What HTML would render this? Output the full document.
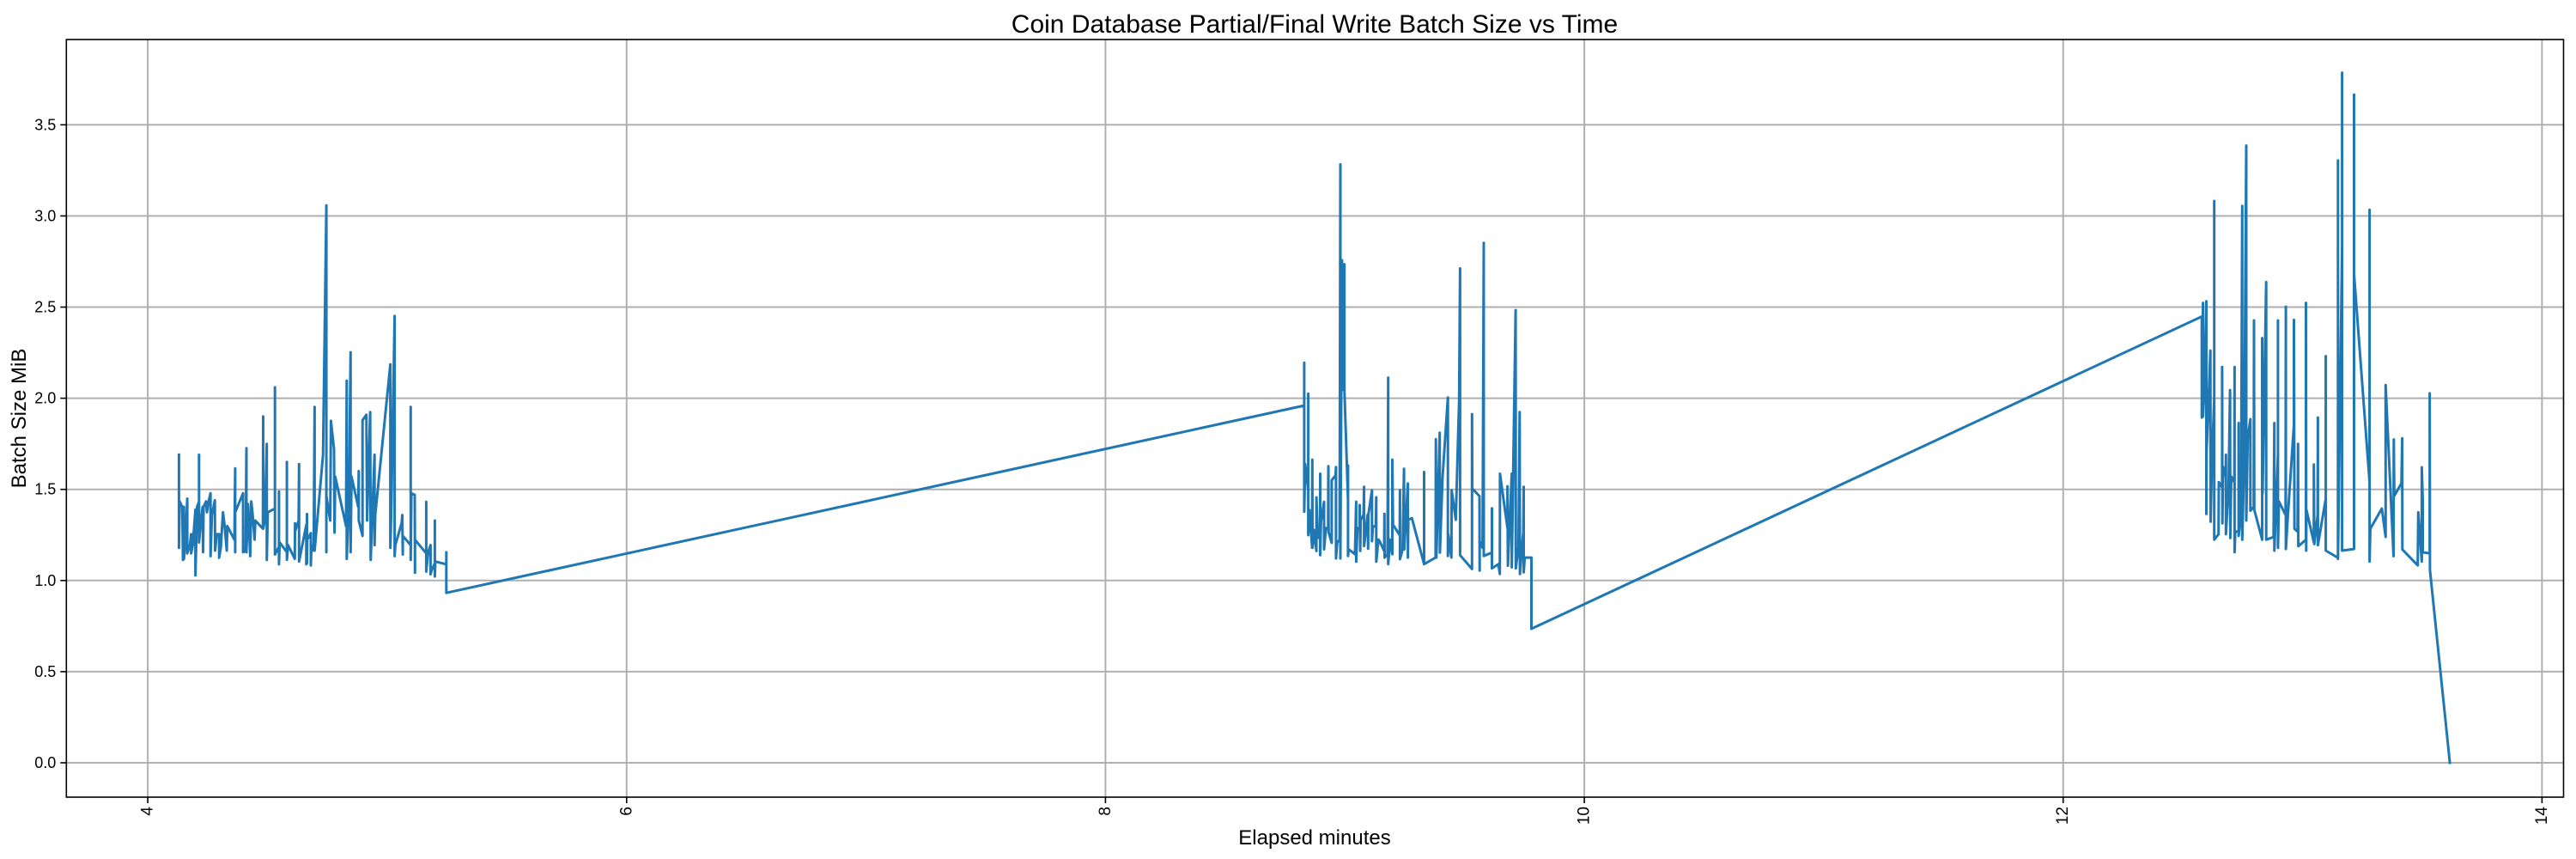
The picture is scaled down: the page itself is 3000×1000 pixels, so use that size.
<!DOCTYPE html>
<html><head><meta charset="utf-8"><style>
html,body{margin:0;padding:0;background:#fff;}
svg{display:block;font-family:"Liberation Sans",sans-serif;}
</style></head>
<body>
<svg id="chart" width="3000" height="1000" viewBox="0 0 3000 1000" xmlns="http://www.w3.org/2000/svg">
<rect x="0" y="0" width="3000" height="1000" fill="#fff"/>
<g id="grid"></g>
<g id="series"></g>
<g id="axes"></g>
<text x="1531" y="38" font-size="30" text-anchor="middle" fill="#000">Coin Database Partial/Final Write Batch Size vs Time</text>
<text x="1531" y="983" font-size="24" text-anchor="middle" fill="#000">Elapsed minutes</text>
<text x="0" y="0" font-size="24" text-anchor="middle" fill="#000" transform="translate(30,487) rotate(-90)">Batch Size MiB</text>
</svg>
<script>
const xTicks = [4, 6, 8, 10, 12, 14];
const yTicks = [0.0, 0.5, 1.0, 1.5, 2.0, 2.5, 3.0, 3.5];
const yTickLabels = ["0.0","0.5","1.0","1.5","2.0","2.5","3.0","3.5"];
const times = [
4.130,4.130,4.133,4.144,4.147,4.151,4.151,4.158,4.165,4.165,4.176,4.181,4.181,4.188,4.199,4.199,4.206,4.214,4.214,4.214,4.221,4.229,4.231,4.233,4.243,4.247,4.254,4.262,4.262,4.268,4.280,4.281,4.288,4.298,4.298,4.305,4.314,4.321,4.330,4.332,4.362,4.365,4.365,4.365,4.398,4.398,4.409,4.412,4.412,4.419,4.428,4.432,4.437,4.446,4.449,4.481,4.482,4.482,4.489,4.497,4.497,4.501,4.531,4.531,4.531,4.548,4.548,4.548,4.551,4.581,4.581,4.581,4.586,4.614,4.615,4.615,4.630,4.632,4.632,4.662,4.662,4.665,4.665,4.666,4.681,4.681,4.684,4.693,4.697,4.697,4.732,4.746,4.746,4.746,4.762,4.765,4.778,4.780,4.783,4.828,4.831,4.831,4.840,4.847,4.847,4.851,4.879,4.881,4.881,4.897,4.897,4.913,4.916,4.929,4.931,4.947,4.947,4.950,5.013,5.013,5.017,5.031,5.031,5.034,5.060,5.063,5.065,5.065,5.098,5.098,5.098,5.101,5.115,5.116,5.116,5.163,5.163,5.163,5.171,5.181,5.181,5.186,5.199,5.199,5.199,5.201,5.247,5.247,5.247,
8.830,8.830,8.830,8.834,8.847,8.847,8.847,8.852,8.863,8.864,8.865,8.870,8.881,8.881,8.887,8.896,8.897,8.897,8.900,8.913,8.913,8.921,8.930,8.931,8.932,8.945,8.945,8.961,8.963,8.963,8.968,8.978,8.981,8.981,8.988,8.995,8.998,8.998,9.013,9.013,9.013,9.016,9.042,9.047,9.047,9.052,9.062,9.062,9.064,9.066,9.078,9.080,9.080,9.095,9.097,9.098,9.113,9.113,9.117,9.129,9.131,9.131,9.140,9.145,9.164,9.165,9.166,9.178,9.181,9.181,9.189,9.198,9.198,9.201,9.229,9.230,9.230,9.241,9.247,9.248,9.263,9.263,9.265,9.280,9.331,9.331,9.331,9.379,9.380,9.382,9.396,9.397,9.408,9.430,9.430,9.432,9.445,9.446,9.463,9.477,9.481,9.481,9.531,9.531,9.532,9.562,9.563,9.563,9.575,9.580,9.580,9.614,9.614,9.614,9.641,9.647,9.648,9.679,9.679,9.681,9.697,9.697,9.713,9.714,9.725,9.730,9.731,9.745,9.747,9.747,9.751,9.779,9.779,
12.579,12.579,12.584,12.584,12.591,12.598,12.598,12.599,12.604,12.615,12.616,12.621,12.631,12.631,12.631,12.649,12.650,12.664,12.664,12.665,12.668,12.679,12.680,12.680,12.691,12.697,12.698,12.702,12.715,12.716,12.716,12.719,12.733,12.733,12.733,12.743,12.748,12.748,12.756,12.765,12.765,12.771,12.782,12.782,12.796,12.797,12.798,12.831,12.831,12.833,12.848,12.848,12.879,12.882,12.882,12.897,12.897,12.897,12.901,12.929,12.930,12.930,12.938,12.964,12.964,12.966,12.979,12.981,12.982,13.014,13.014,13.015,13.016,13.047,13.047,13.049,13.063,13.064,13.064,13.097,13.097,13.097,13.148,13.148,13.148,13.165,13.165,13.165,13.215,13.215,13.215,13.215,13.280,13.280,13.280,13.283,13.331,13.347,13.347,13.380,13.381,13.383,13.413,13.416,13.417,13.481,13.483,13.498,13.498,13.502,13.502,13.531,13.531,13.532,13.615
];
const batchSizes = [
1.690,1.179,1.434,1.404,1.113,1.404,1.119,1.239,1.449,1.149,1.194,1.254,1.149,1.194,1.389,1.028,1.404,1.434,1.690,1.209,1.314,1.404,1.155,1.404,1.434,1.374,1.434,1.479,1.134,1.359,1.440,1.164,1.254,1.254,1.125,1.179,1.374,1.299,1.164,1.299,1.224,1.615,1.155,1.374,1.479,1.155,1.164,1.726,1.155,1.419,1.134,1.434,1.374,1.224,1.329,1.284,1.900,1.284,1.329,1.750,1.113,1.374,1.395,2.060,1.143,1.185,1.488,1.089,1.209,1.155,1.651,1.113,1.194,1.119,1.314,1.269,1.329,1.639,1.104,1.305,1.089,1.365,1.095,1.224,1.260,1.083,1.194,1.164,1.952,1.164,1.690,3.058,1.155,1.464,1.329,1.876,1.720,1.263,1.570,1.299,2.096,1.119,1.419,2.252,1.155,1.570,1.404,1.600,1.329,1.245,1.879,1.909,1.329,1.924,1.113,1.690,1.194,1.359,2.186,1.179,1.389,2.451,1.134,1.194,1.314,1.359,1.143,1.245,1.194,1.952,1.113,1.479,1.470,1.043,1.224,1.149,1.431,1.049,1.155,1.194,1.034,1.058,1.095,1.329,1.022,1.104,1.089,1.155,0.932,
1.960,2.195,1.378,1.640,1.495,2.025,1.249,1.387,1.180,1.663,1.180,1.279,1.162,1.456,1.234,1.234,1.586,1.139,1.324,1.432,1.171,1.288,1.283,1.627,1.265,1.207,1.550,1.577,1.622,1.121,1.207,1.225,3.283,1.121,2.757,2.045,2.735,2.045,1.441,1.631,1.135,1.171,1.144,1.432,1.103,1.288,1.288,1.414,1.162,1.333,1.360,1.514,1.189,1.360,1.175,1.360,1.495,1.216,1.297,1.297,1.456,1.103,1.225,1.216,1.162,1.366,1.126,1.144,2.113,1.090,1.225,1.144,1.663,1.306,1.249,1.495,1.117,1.171,1.613,1.171,1.532,1.126,1.333,1.342,1.090,1.595,1.090,1.126,1.775,1.126,1.811,1.153,1.568,2.004,1.135,1.252,1.126,1.495,1.333,1.991,2.712,1.139,1.063,1.913,1.505,1.463,1.054,1.216,1.180,2.852,1.135,1.153,1.396,1.067,1.090,1.036,1.586,1.288,1.517,1.081,1.586,1.072,2.483,1.067,1.180,1.924,1.036,1.265,1.514,1.045,1.126,1.126,0.735,
2.448,1.894,2.523,1.900,2.081,2.532,1.365,1.714,1.870,2.261,1.323,1.630,2.006,3.082,1.224,1.254,1.540,1.510,2.171,1.314,1.624,1.570,1.690,1.254,1.510,2.045,1.233,1.570,1.540,2.171,1.155,1.269,1.269,1.864,1.245,1.359,3.055,1.224,1.630,3.386,1.329,1.780,1.885,1.383,1.404,2.427,1.389,1.224,2.330,1.479,2.637,1.224,1.239,1.864,1.164,1.690,2.427,1.179,1.434,1.359,2.502,1.173,1.344,1.855,2.430,1.284,1.269,1.750,1.188,1.224,2.523,1.164,1.389,1.209,1.636,1.200,1.359,1.894,1.194,1.449,2.231,1.164,1.125,3.305,1.119,2.833,3.786,1.164,1.173,1.991,3.666,2.682,1.540,3.034,1.104,1.284,1.395,1.239,2.072,1.134,1.774,1.464,1.534,1.780,1.170,1.083,1.374,1.104,1.621,1.443,1.155,1.149,2.027,1.058,0.000
];

const NS = "http://www.w3.org/2000/svg";
const plot = {left: 77.3, right: 2985.5, top: 46, bottom: 928};
const xDomain = [3.660, 14.090];
const yDomain = [-0.1885, 3.968];
function xScale(v){ return plot.left + (v - xDomain[0]) / (xDomain[1] - xDomain[0]) * (plot.right - plot.left); }
function yScale(v){ return plot.bottom - (v - yDomain[0]) / (yDomain[1] - yDomain[0]) * (plot.bottom - plot.top); }
function mk(tag, attrs){ const e = document.createElementNS(NS, tag); for (const k in attrs) e.setAttribute(k, attrs[k]); return e; }

const grid = document.getElementById('grid');
const axes = document.getElementById('axes');
const series = document.getElementById('series');

xTicks.forEach(t => {
  const x = xScale(t);
  const gl = mk('line', {x1:x, x2:x, y1:plot.top, y2:plot.bottom, stroke:'#b0b0b0', 'stroke-width':2});
  
  
  grid.appendChild(gl);
  const tk = mk('line', {x1:x, x2:x, y1:plot.bottom, y2:plot.bottom+7, stroke:'#000', 'stroke-width':1.6});
  
  
  axes.appendChild(tk);
  const lb = mk('text', {x:0, y:0, 'font-size':19, 'text-anchor':'end', 'dominant-baseline':'central', fill:'#000', transform:`translate(${x},${plot.bottom+11}) rotate(-90)`});
  lb.textContent = String(t);
  
  
  axes.appendChild(lb);
});

yTicks.forEach((t, i) => {
  const y = yScale(t);
  const gl = mk('line', {x1:plot.left, x2:plot.right, y1:y, y2:y, stroke:'#b0b0b0', 'stroke-width':2});
  
  
  grid.appendChild(gl);
  const tk = mk('line', {x1:plot.left-7, x2:plot.left, y1:y, y2:y, stroke:'#000', 'stroke-width':1.6});
  
  
  axes.appendChild(tk);
  const lb = mk('text', {x:plot.left-12, y:y, 'font-size':18, 'text-anchor':'end', 'dominant-baseline':'central', fill:'#000'});
  lb.textContent = yTickLabels[i];
  
  
  axes.appendChild(lb);
});

const frame = mk('rect', {x:plot.left, y:plot.top, width:plot.right-plot.left, height:plot.bottom-plot.top, fill:'none', stroke:'#000', 'stroke-width':1.6});


axes.appendChild(frame);

let d = '';
times.forEach((t, i) => { d += (i ? 'L' : 'M') + xScale(t).toFixed(1) + ',' + yScale(batchSizes[i]).toFixed(1); });
const path = mk('path', {d:d, fill:'none', stroke:'#1f77b4', 'stroke-width':3, 'stroke-linejoin':'round', 'stroke-linecap':'square'});


series.appendChild(path);
</script>
</body></html>
